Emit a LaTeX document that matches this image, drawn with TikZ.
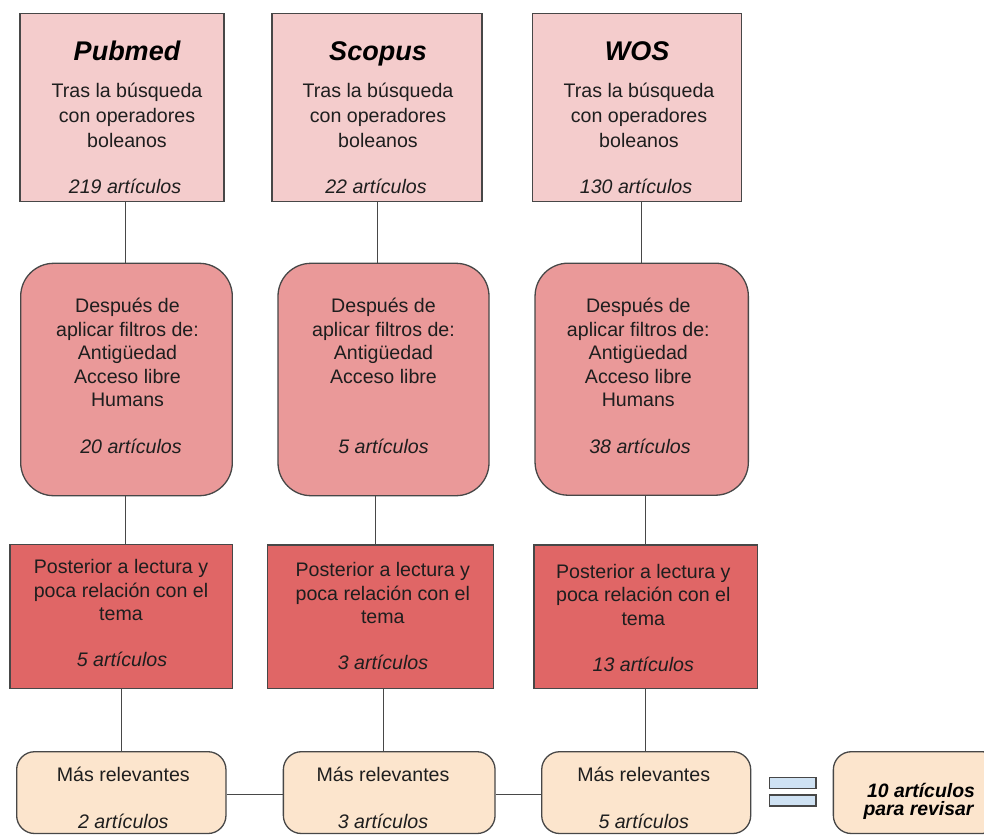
\documentclass[tikz,border=0pt]{standalone}
\usepackage{fontspec}
\setmainfont{Liberation Sans}
\definecolor{ctop}{HTML}{F4CCCC}
\definecolor{cmid}{HTML}{EA9999}
\definecolor{cred}{HTML}{E06666}
\definecolor{cbot}{HTML}{FCE5CD}
\definecolor{ceq}{HTML}{CFE2F3}
\definecolor{cline}{HTML}{474747}
\definecolor{ctxt}{HTML}{1E1E1E}
\tikzset{
  box/.style={draw=cline, line width=1.3pt, inner sep=0pt},
  topbox/.style={box, fill=ctop, rectangle},
  midbox/.style={box, fill=cmid, rectangle, rounded corners=33pt},
  redbox/.style={box, fill=cred, rectangle},
  botbox/.style={box, fill=cbot, rectangle, rounded corners=18pt},
  eqbar/.style={box, fill=ceq, rectangle, minimum width=46.7pt, minimum height=11pt},
  conn/.style={draw=cline, line width=1.5pt},
  txt/.style={anchor=base, inner sep=0pt, text=ctxt, font=\fontsize{19.6}{23.5}\selectfont},
  itx/.style={txt, font=\fontsize{19.6}{23.5}\selectfont\itshape},
  ttl/.style={txt, text=black, font=\fontsize{27}{30}\selectfont\bfseries\itshape},
  fin/.style={txt, text=black, font=\fontsize{19.4}{20}\selectfont\bfseries\itshape}
}
\begin{document}
\begin{tikzpicture}[x=1pt,y=-1pt]
\path[use as bounding box] (0,0) rectangle (984,835);
\clip (0,0) rectangle (984,835);

% top boxes
\node[topbox, minimum width=204pt, minimum height=188.4pt] (pt) at (122,107.5) {};
\node[topbox, minimum width=210pt, minimum height=188.4pt] (st) at (377,107.5) {};
\node[topbox, minimum width=209pt, minimum height=188.4pt] (wt) at (637.2,107.5) {};

% rounded boxes
\node[midbox, minimum width=211.6pt, minimum height=232.4pt] (pr) at (126.5,379.5) {};
\node[midbox, minimum width=211pt, minimum height=232.4pt] (sr) at (383.5,379.5) {};
\node[midbox, minimum width=213.3pt, minimum height=232pt] (wr) at (641.7,379.2) {};

% red boxes
\node[redbox, minimum width=222.3pt, minimum height=144pt] (pd) at (121.2,616.3) {};
\node[redbox, minimum width=226pt, minimum height=143.3pt] (sd) at (380.3,616.7) {};
\node[redbox, minimum width=223.3pt, minimum height=143.3pt] (wd) at (645.7,616.7) {};

% bottom boxes
\node[botbox, minimum width=209.3pt, minimum height=81.8pt] (pb) at (121.3,792.6) {};
\node[botbox, minimum width=211.7pt, minimum height=81.8pt] (sb) at (389.2,792.6) {};
\node[botbox, minimum width=209pt, minimum height=81.8pt] (wb) at (646.2,792.6) {};
\node[botbox, minimum width=166.7pt, minimum height=81.8pt] (fb) at (916.7,792.6) {};

% equals sign
\node[eqbar] (eqa) at (792.7,782.8) {};
\node[eqbar] (eqb) at (792.7,800.5) {};

% connector x positions
\coordinate (xa) at (125.5,0);
\coordinate (xb) at (121.5,0);
\coordinate (xc) at (377.5,0);
\coordinate (xd) at (375.5,0);
\coordinate (xe) at (383.5,0);
\coordinate (xf) at (641.5,0);
\coordinate (xg) at (645.5,0);
\coordinate (xh) at (645.5,0);
\coordinate (yh) at (0,794.5);

\draw[conn] (pt.south -| xa) -- (pr.north -| xa);
\draw[conn] (pr.south -| xa) -- (pd.north -| xa);
\draw[conn] (pd.south -| xb) -- (pb.north -| xb);
\draw[conn] (st.south -| xc) -- (sr.north -| xc);
\draw[conn] (sr.south -| xd) -- (sd.north -| xd);
\draw[conn] (sd.south -| xe) -- (sb.north -| xe);
\draw[conn] (wt.south -| xf) -- (wr.north -| xf);
\draw[conn] (wr.south -| xg) -- (wd.north -| xg);
\draw[conn] (wd.south -| xh) -- (wb.north -| xh);
\draw[conn] (pb.east |- yh) -- (sb.west |- yh);
\draw[conn] (sb.east |- yh) -- (wb.west |- yh);

% top texts
\node[ttl] (pt0) at (127,60) {Pubmed};
\node[txt] (pt1) at (127,97.5) {Tras la búsqueda};
\node[txt] (pt2) at (127,122.5) {con operadores};
\node[txt] (pt3) at (127,147.5) {boleanos};
\node[itx] (pt4) at (125,193) {219 artículos};

\node[ttl] (st0) at (378,60) {Scopus};
\node[txt] (st1) at (378,97.5) {Tras la búsqueda};
\node[txt] (st2) at (378,122.5) {con operadores};
\node[txt] (st3) at (378,147.5) {boleanos};
\node[itx] (st4) at (376,193) {22 artículos};

\node[ttl] (wt0) at (637,60) {WOS};
\node[txt] (wt1) at (639,97.5) {Tras la búsqueda};
\node[txt] (wt2) at (639,122.5) {con operadores};
\node[txt] (wt3) at (639,147.5) {boleanos};
\node[itx] (wt4) at (636,193) {130 artículos};

% rounded texts
\node[txt] (pr1) at (127.5,312.8) {Después de};
\node[txt] (pr2) at (127.5,336.3) {aplicar filtros de:};
\node[txt] (pr3) at (127.5,359.8) {Antigüedad};
\node[txt] (pr4) at (127.5,383.3) {Acceso libre};
\node[txt] (pr5) at (127.5,406.8) {Humans};
\node[itx] (pr6) at (131,453.5) {20 artículos};

\node[txt] (sr1) at (383.5,312.8) {Después de};
\node[txt] (sr2) at (383.5,336.3) {aplicar filtros de:};
\node[txt] (sr3) at (383.5,359.8) {Antigüedad};
\node[txt] (sr4) at (383.5,383.3) {Acceso libre};
\node[itx] (sr5) at (383.5,453.5) {5 artículos};

\node[txt] (wr1) at (638.3,312.8) {Después de};
\node[txt] (wr2) at (638.3,336.3) {aplicar filtros de:};
\node[txt] (wr3) at (638.3,359.8) {Antigüedad};
\node[txt] (wr4) at (638.3,383.3) {Acceso libre};
\node[txt] (wr5) at (638.3,406.8) {Humans};
\node[itx] (wr6) at (640,453.5) {38 artículos};

% red texts
\node[txt] (pd1) at (121,573.3) {Posterior a lectura y};
\node[txt] (pd2) at (121,597.3) {poca relación con el};
\node[txt] (pd3) at (121,620) {tema};
\node[itx] (pd4) at (122,666.7) {5 artículos};

\node[txt] (sd1) at (382.8,576) {Posterior a lectura y};
\node[txt] (sd2) at (382.8,600) {poca relación con el};
\node[txt] (sd3) at (382.8,623.3) {tema};
\node[itx] (sd4) at (383,669.3) {3 artículos};

\node[txt] (wd1) at (643.3,578.3) {Posterior a lectura y};
\node[txt] (wd2) at (643.3,601.7) {poca relación con el};
\node[txt] (wd3) at (643.3,625) {tema};
\node[itx] (wd4) at (643.3,671.7) {13 artículos};

% bottom texts
\node[txt] (pb1) at (123.3,781) {Más relevantes};
\node[itx] (pb2) at (123.3,828) {2 artículos};
\node[txt] (sb1) at (383,781) {Más relevantes};
\node[itx] (sb2) at (383,828) {3 artículos};
\node[txt] (wb1) at (643.7,781.5) {Más relevantes};
\node[itx] (wb2) at (643.7,828.5) {5 artículos};
\node[fin] (fb1) at (921,797) {10 artículos};
\node[fin] (fb2) at (918.5,815) {para revisar};
\end{tikzpicture}
\end{document}
